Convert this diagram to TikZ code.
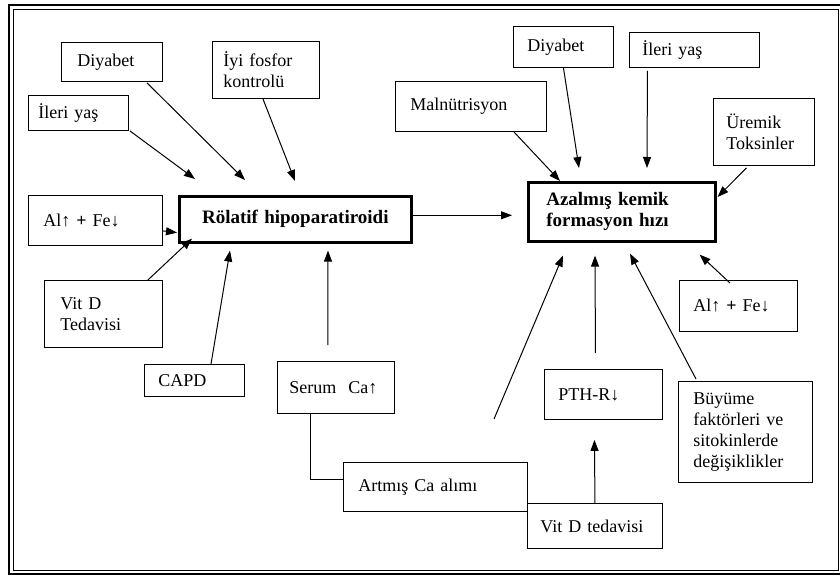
\documentclass[tikz,border=0pt]{standalone}
\usepackage{fontspec}
\setmainfont{Liberation Serif}
\usetikzlibrary{arrows.meta,calc}
\begin{document}
\begin{tikzpicture}[x=1pt,y=-1pt,
  box/.style={draw, line width=0.9pt, anchor=north west, align=left, inner ysep=2pt,
    font=\fontsize{18}{21}\selectfont},
  mainbox/.style={box, line width=2.6pt, font=\bfseries\fontsize{19}{21}\selectfont},
  arr/.style={-{Triangle[length=11pt,width=8pt]}, line width=1pt},
  link/.style={line width=1pt},
  frame/.style={draw, line width=1.4pt}]
\useasboundingbox (0,0) rectangle (840,577);
\draw[frame] (9,5) rectangle (845,574);
\draw[line width=1pt] (13,10) rectangle (838,570);

% left cluster
\node[box, inner xsep=16pt, text width=69pt, minimum height=39pt] (diyL) at (61,42) {Diyabet};
\node[box, inner xsep=11pt, text width=85pt, minimum height=57pt] (iyi) at (212,41) {İyi fosfor\\kontrolü};
\node[box, inner xsep=10pt, text width=80pt, minimum height=35pt] (ileriL) at (28,95) {İleri yaş};
\node[box, inner xsep=15pt, text width=104pt, minimum height=50pt] (alL) at (28,195) {Al↑ \textbf{+} Fe↓};
\node[mainbox, align=center, inner xsep=8pt, text width=216pt, minimum height=46pt] (rel) at (178,195) {Rölatif hipoparatiroidi};
\node[box, inner xsep=16pt, text width=86pt, minimum height=67pt] (vitL) at (44,280) {Vit D\\Tedavisi};
\node[box, inner xsep=14pt, text width=72pt, minimum height=32pt] (capd) at (144,364) {CAPD};
\node[box, inner xsep=12pt, text width=93pt, minimum height=52pt] (serum) at (277,361) {\mbox{Serum\ \ Ca↑}};
\node[box, inner xsep=15pt, text width=154pt, minimum height=49pt] (art) at (343,462) {Artmış Ca alımı};
\node[box, inner xsep=13pt, text width=109pt, minimum height=45pt] (vitR) at (527,503) {\mbox{Vit D tedavisi}};

% right cluster
\node[box, inner xsep=14pt, text width=72pt, minimum height=41pt] (diyR) at (513,26) {Diyabet};
\node[box, inner xsep=13pt, text width=104pt, minimum height=35pt] (ileriR) at (629,32) {İleri yaş};
\node[box, inner xsep=15pt, text width=121pt, minimum height=50pt] (mal) at (395,81) {Malnütrisyon};
\node[box, inner xsep=13pt, text width=75pt, minimum height=67pt] (urem) at (713,98) {Üremik\\Toksinler};
\node[mainbox, inner xsep=18pt, text width=151pt, minimum height=59pt] (az) at (527,181) {Azalmış kemik\\formasyon hızı};
\node[box, inner xsep=14pt, text width=90pt, minimum height=51pt] (alR) at (679,280) {Al↑ \textbf{+} Fe↓};
\node[box, inner xsep=14pt, text width=90pt, minimum height=50pt] (pth) at (544,369) {PTH-R↓};
\node[box, inner xsep=15pt, text width=104pt, minimum height=101pt] (buy) at (678,381) {Büyüme\\faktörleri ve\\sitokinlerde\\değişiklikler};

\coordinate (free) at (494,419);

% arrows into Rölatif hipoparatiroidi
\draw[arr] ($(ileriL.south east)+(1,0)$) -- ($(rel.north west)+(17,-16)$);
\draw[arr] ($(diyL.south west)+(86,1)$) -- ($(rel.north west)+(67,-15)$);
\draw[arr] ($(iyi.south)+(-3,0)$) -- ($(rel.north west)+(117,-14)$);
\draw[arr] ($(alL.south east)+(0,-15)$) -- ($(rel.south west)+(-1,-11)$);
\draw[arr] ($(vitL.north east)+(-15,0)$) -- ($(rel.south west)+(14,-5)$);
\draw[arr] ($(capd.north west)+(67,0)$) -- ($(rel.south west)+(52,7)$);
\draw[arr] ($(serum.north)+(-8,-16)$) -- ($(rel.south west)+(150,7)$);

% main arrow
\draw[arr] ($(rel.east)+(0,-4)$) -- ($(az.west)+(-15,3.5)$);

% arrows into Azalmış kemik formasyon hızı
\draw[arr] ($(mal.south east)+(-33,0)$) -- ($(az.north west)+(33,0)$);
\draw[arr] (diyR.south) -- ($(az.north west)+(52,-13)$);
\draw[arr] ($(ileriR.south)+(-47,3)$) -- ($(az.north west)+(120,-13)$);
\draw[arr] ($(urem.south)+(-17.5,2)$) -- ($(az.north east)+(1,16)$);
\draw[arr] ($(alR.north west)+(51,3)$) -- ($(az.south east)+(-17,12)$);
\draw[arr] ($(buy.north west)+(18,-2)$) -- ($(az.south west)+(103,11)$);
\draw[arr] ($(pth.north)+(-8,-16)$) -- ($(az.south west)+(68,13)$);
\draw[arr] (free) -- ($(az.south west)+(36,13)$);

% lower links
\draw[arr] (vitR.north) -- ($(pth.south)+(-9,20)$);
\draw[link] ($(serum.south west)+(33,0)$) |- ($(art.south west)+(0,-32)$);
\end{tikzpicture}
\end{document}
